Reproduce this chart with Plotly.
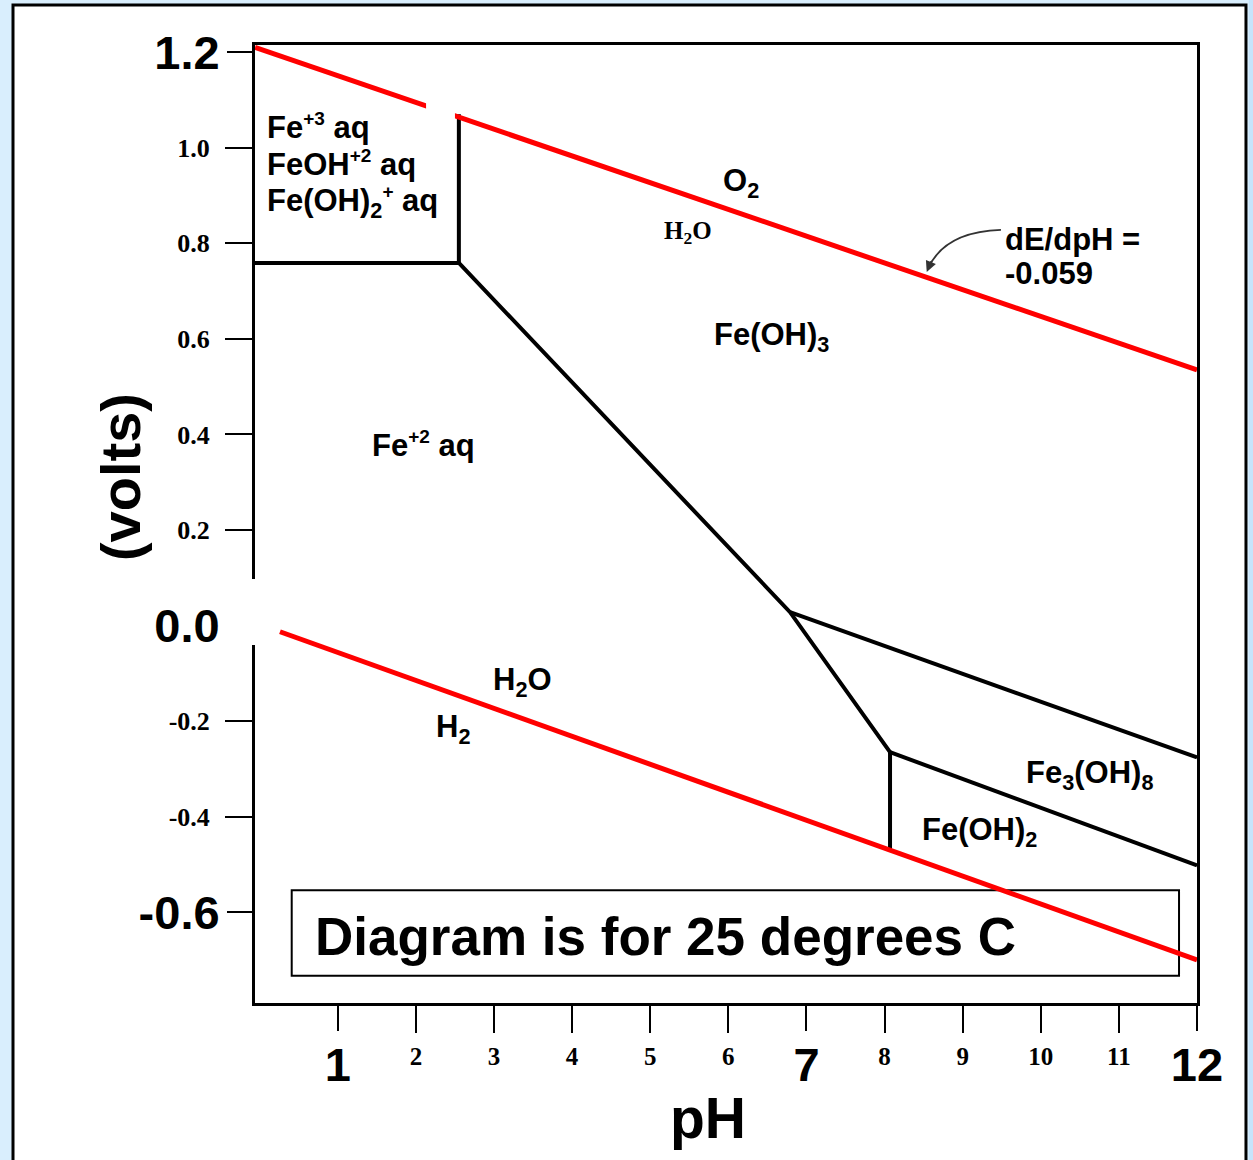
import plotly.graph_objects as go

# ---------------- data ----------------
# axis ticks
ph_ticks_small = [2, 3, 4, 5, 6, 8, 9, 10, 11]
ph_ticks_big = [1, 7, 12]
e_ticks_small = [1.0, 0.8, 0.6, 0.4, 0.2, -0.2, -0.4]
e_labels_small = ["1.0", "0.8", "0.6", "0.4", "0.2", "-0.2", "-0.4"]
e_ticks_big = [1.2, 0.0, -0.6]
e_labels_big = ["1.2", "0.0", "-0.6"]

# water stability limits (red)
o2_ph = [-0.06, 12.0]
o2_e = [1.21, 0.535]
h2_ph = [0.26, 12.0]
h2_e = [-0.013, -0.70]

# iron species boundaries (black)
fe3_box_ph = [-0.06, 2.55, 2.55]
fe3_box_e = [0.759, 0.759, 1.07]
fe2_bound_ph = [2.55, 6.79, 8.07, 8.07]
fe2_bound_e = [0.759, 0.028, -0.265, -0.470]
fe3oh8_top_ph = [6.79, 12.0]
fe3oh8_top_e = [0.028, -0.276]
fe3oh8_bot_ph = [8.07, 12.0]
fe3oh8_bot_e = [-0.265, -0.502]

SANS = "Liberation Sans, Arial, sans-serif"
SERIF = "Liberation Serif, Times New Roman, serif"

fig = go.Figure()
black = dict(color="black", width=4)
for xs, ys in [(fe3_box_ph, fe3_box_e), (fe2_bound_ph, fe2_bound_e),
               (fe3oh8_top_ph, fe3oh8_top_e), (fe3oh8_bot_ph, fe3oh8_bot_e)]:
    fig.add_trace(go.Scatter(x=xs, y=ys, mode="lines", line=black,
                             hoverinfo="skip", showlegend=False))
for xs, ys in [(o2_ph, o2_e), (h2_ph, h2_e)]:
    fig.add_trace(go.Scatter(x=xs, y=ys, mode="lines",
                             line=dict(color="#ff0000", width=5),
                             hoverinfo="skip", showlegend=False))
# carrier trace for the overlay axes (big tick labels)
fig.add_trace(go.Scatter(x=[], y=[], xaxis="x2", yaxis="y2", showlegend=False))

XR = [-0.06, 12.0]
YR = [-0.79, 1.215]

fig.update_layout(
    width=1253, height=1160,
    margin=dict(l=255, r=56, t=45, b=157),
    paper_bgcolor="#d9eefd",
    plot_bgcolor="rgba(0,0,0,0)",
    xaxis=dict(range=XR, tickvals=ph_ticks_small,
               ticktext=[str(v) for v in ph_ticks_small],
               tickfont=dict(family=SERIF, size=25, color="black", weight="bold"),
               ticks="outside", ticklen=27, tickwidth=2, tickcolor="black",
               showline=True, linewidth=3, linecolor="black", mirror=True,
               showgrid=False, zeroline=False, ticklabelstandoff=2),
    yaxis=dict(range=YR, tickvals=e_ticks_small, ticktext=e_labels_small,
               tickfont=dict(family=SERIF, size=26, color="black", weight="bold"),
               ticks="outside", ticklen=27, tickwidth=2, tickcolor="black",
               showline=True, linewidth=3, linecolor="black", mirror=True,
               showgrid=False, zeroline=False, ticklabelstandoff=10),
    xaxis2=dict(range=XR, overlaying="x", anchor="y2", side="bottom",
                tickvals=ph_ticks_big, ticktext=[str(v) for v in ph_ticks_big],
                tickfont=dict(family=SANS, size=47, color="black", weight="bold"),
                ticks="outside", ticklen=27, tickwidth=2, tickcolor="black",
                showline=False, showgrid=False, zeroline=False,
                ticklabelstandoff=-6),
    yaxis2=dict(range=YR, overlaying="y", anchor="x2", side="left",
                tickvals=e_ticks_big, ticktext=e_labels_big,
                tickfont=dict(family=SANS, size=47, color="black", weight="bold"),
                ticks="outside", ticklen=27, tickwidth=2, tickcolor="black",
                showline=False, showgrid=False, zeroline=False,
                ticklabelstandoff=-2),
)

shapes = [
    # outer white panel
    dict(type="rect", xref="paper", yref="paper", x0=-0.2569, x1=1.052,
         y0=-0.2, y1=1.0418, line=dict(color="black", width=3),
         fillcolor="white", layer="below"),
    # darker right side of background
    dict(type="rect", xref="paper", yref="paper", x0=1.055, x1=1.07,
         y0=-0.2, y1=1.06, line=dict(width=0), fillcolor="#c6e4fb", layer="below"),
    # white gap on the E axis near 0.0
    dict(type="rect", xref="paper", yref="paper", x0=-0.031, x1=0.0074,
         y0=0.3737, y1=0.4426, line=dict(width=0), fillcolor="white", layer="above"),
    # white gap on the O2 line
    dict(type="rect", xref="x", yref="y", x0=2.13, x1=2.50, y0=1.058, y1=1.094,
         line=dict(width=0), fillcolor="white", layer="above"),
    # note box
    dict(type="rect", xref="x", yref="y", x0=0.41, x1=11.77, y0=-0.733, y1=-0.554,
         line=dict(color="black", width=2), fillcolor="rgba(0,0,0,0)", layer="below"),
    # curved arrow body
    dict(type="path", xref="x", yref="y",
         path="M 9.49,0.828 Q 8.77,0.824 8.56,0.748",
         line=dict(color="#333333", width=1.8)),
]
fig.update_layout(shapes=shapes)

def lab(text, x, y, size=31, xanchor="center", family=SANS):
    return dict(text=text, x=x, y=y, xref="x", yref="y", showarrow=False,
                xanchor=xanchor, yanchor="middle",
                font=dict(family=family, size=size, color="black", weight="bold"))

def sup(t):
    return '<sup><span style="font-size:19px">' + t + '</span></sup>'

annotations = [
    lab("Fe" + sup("+3") + " aq", 0.068, 1.045, xanchor="left"),
    lab("FeOH" + sup("+2") + " aq", 0.068, 0.967, xanchor="left"),
    lab("Fe(OH)<sub>2</sub>" + sup("+") + " aq", 0.068, 0.886, xanchor="left"),
    lab("O<sub>2</sub>", 6.16, 0.926),
    lab("H<sub>2</sub>O", 5.48, 0.822, size=25, family=SERIF),
    lab("dE/dpH =", 9.52, 0.807, xanchor="left"),
    lab("-0.059", 9.52, 0.736, xanchor="left"),
    lab("Fe(OH)<sub>3</sub>", 6.55, 0.604),
    lab("Fe" + sup("+2") + " aq", 2.10, 0.378),
    lab("H<sub>2</sub>O", 3.36, -0.118),
    lab("H<sub>2</sub>", 2.47, -0.217),
    lab("Fe<sub>3</sub>(OH)<sub>8</sub>", 10.63, -0.313),
    lab("Fe(OH)<sub>2</sub>", 9.22, -0.432),
    lab("Diagram is for 25 degrees C", 0.68, -0.650, size=53, xanchor="left"),
    # arrow head of the curved arrow
    dict(x=8.54, y=0.740, xref="x", yref="y", text="", showarrow=True,
         ax=5, ay=-12, arrowhead=2, arrowsize=1.2, arrowwidth=1.8,
         arrowcolor="#333333"),
    # axis titles
    dict(text="(volts)", x=-0.1433, y=0.549, xref="paper", yref="paper",
         showarrow=False, textangle=-90, xanchor="center", yanchor="middle",
         font=dict(family=SANS, size=56, color="black", weight="bold")),
    dict(text="pH", x=0.481, y=-0.12, xref="paper", yref="paper",
         showarrow=False, xanchor="center", yanchor="middle",
         font=dict(family=SANS, size=57, color="black", weight="bold")),
]
fig.update_layout(annotations=annotations)

fig.write_html("out.html",
               config={"displayModeBar": False},
               post_script="document.body.style.margin='0';document.body.style.background='#d9eefd';")
